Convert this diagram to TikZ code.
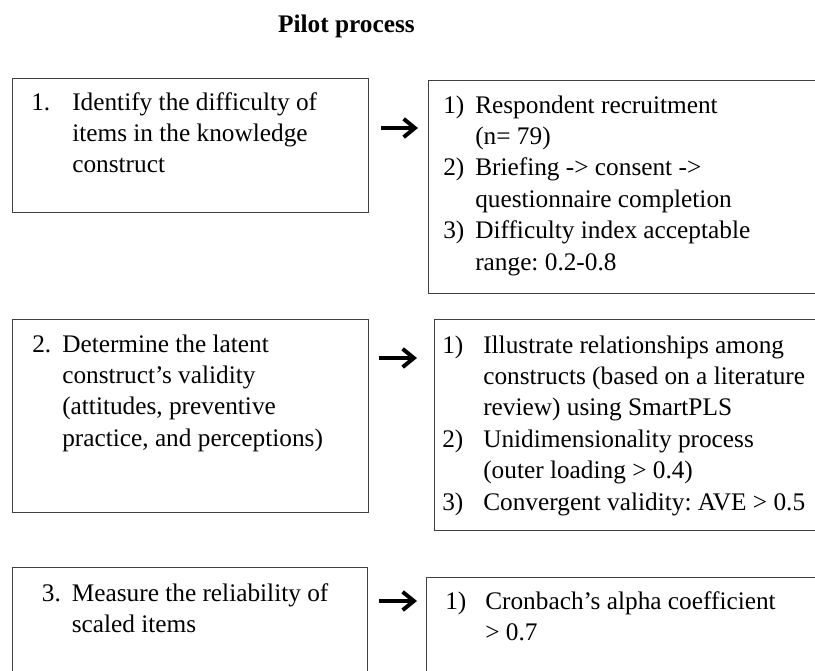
\documentclass[tikz,border=0pt]{standalone}
\usepackage{fontspec}
\setmainfont{Liberation Serif}
\usepackage{array}
\usetikzlibrary{arrows.meta}
\frenchspacing

\begin{document}
\begin{tikzpicture}[
  box/.style={draw=black!75, line width=0.8pt, anchor=north west, inner sep=0pt},
  txt/.style={anchor=base west, inner sep=0pt, font=\fontsize{18}{22.4}\selectfont},
  flow/.style={line width=2.8pt, -{Straight Barb[length=8pt,width=13pt]}}]
\useasboundingbox (0,0) rectangle (20.375,-16.775);
\clip (0,0) rectangle (20.375,-16.775);
% Title
\node[txt, anchor=base, font=\fontsize{18}{22.4}\selectfont\bfseries] (title) at (8.66,-0.825) {Pilot process};
% Aims (left) and tasks (right)
\node[box, minimum width=8.9cm, minimum height=3.35cm] (aim1) at (0.3,-1.95) {};
\node[box, minimum width=10.05cm, minimum height=5.325cm] (task1) at (10.7,-2.0) {};
\node[box, minimum width=8.9cm, minimum height=4.825cm] (aim2) at (0.3,-7.975) {};
\node[box, minimum width=9.9cm, minimum height=5.275cm] (task2) at (10.85,-7.975) {};
\node[box, minimum width=8.875cm, minimum height=3.5cm] (aim3) at (0.3,-14.175) {};
\node[box, minimum width=10.1cm, minimum height=3.5cm] (task3) at (10.65,-14.425) {};
% Texts
\node[txt] (aim1txt) at (0.775,-2.75) {\begin{tabular}[t]{@{}p{1.025cm}@{}l@{}}
1. & Identify the difficulty of\\
 & items in the knowledge\\
 & construct
\end{tabular}};
\node[txt] (task1txt) at (11.075,-2.825) {\begin{tabular}[t]{@{}p{0.8cm}@{}l@{}}
1) & Respondent recruitment\\
 & (n= 79)\\
2) & Briefing -> consent ->\\
 & questionnaire completion\\
3) & Difficulty index acceptable\\
 & range: 0.2-0.8
\end{tabular}};
\node[txt] (aim2txt) at (0.8,-8.8) {\begin{tabular}[t]{@{}p{0.75cm}@{}l@{}}
2. & Determine the latent\\
 & construct’s validity\\
 & (attitudes, preventive\\
 & practice, and perceptions)
\end{tabular}};
\node[txt] (task2txt) at (11.05,-8.825) {\begin{tabular}[t]{@{}p{1.025cm}@{}l@{}}
1) & Illustrate relationships among\\
 & constructs (based on a literature\\
 & review) using SmartPLS\\
2) & Unidimensionality process\\
 & (outer loading > 0.4)\\
3) & Convergent validity: AVE > 0.5
\end{tabular}};
\node[txt] (aim3txt) at (1.04,-15.025) {\begin{tabular}[t]{@{}p{0.75cm}@{}l@{}}
3. & Measure the reliability of\\
 & scaled items
\end{tabular}};
\node[txt] (task3txt) at (11.125,-15.225) {\begin{tabular}[t]{@{}p{1.0cm}@{}l@{}}
1) & Cronbach’s alpha coefficient\\
 & > 0.7
\end{tabular}};
% Arrows
\draw[flow, shorten <=0.3cm, shorten >=0.25cm] (aim1.east |- 0,-3.2) -- (task1.west |- 0,-3.2);
\draw[flow, shorten <=0.25cm, shorten >=0.425cm] (aim2.east |- 0,-8.95) -- (task2.west |- 0,-8.95);
\draw[flow, shorten <=0.275cm, shorten >=0.225cm] (aim3.east |- 0,-15.025) -- (task3.west |- 0,-15.025);
\end{tikzpicture}
\end{document}
